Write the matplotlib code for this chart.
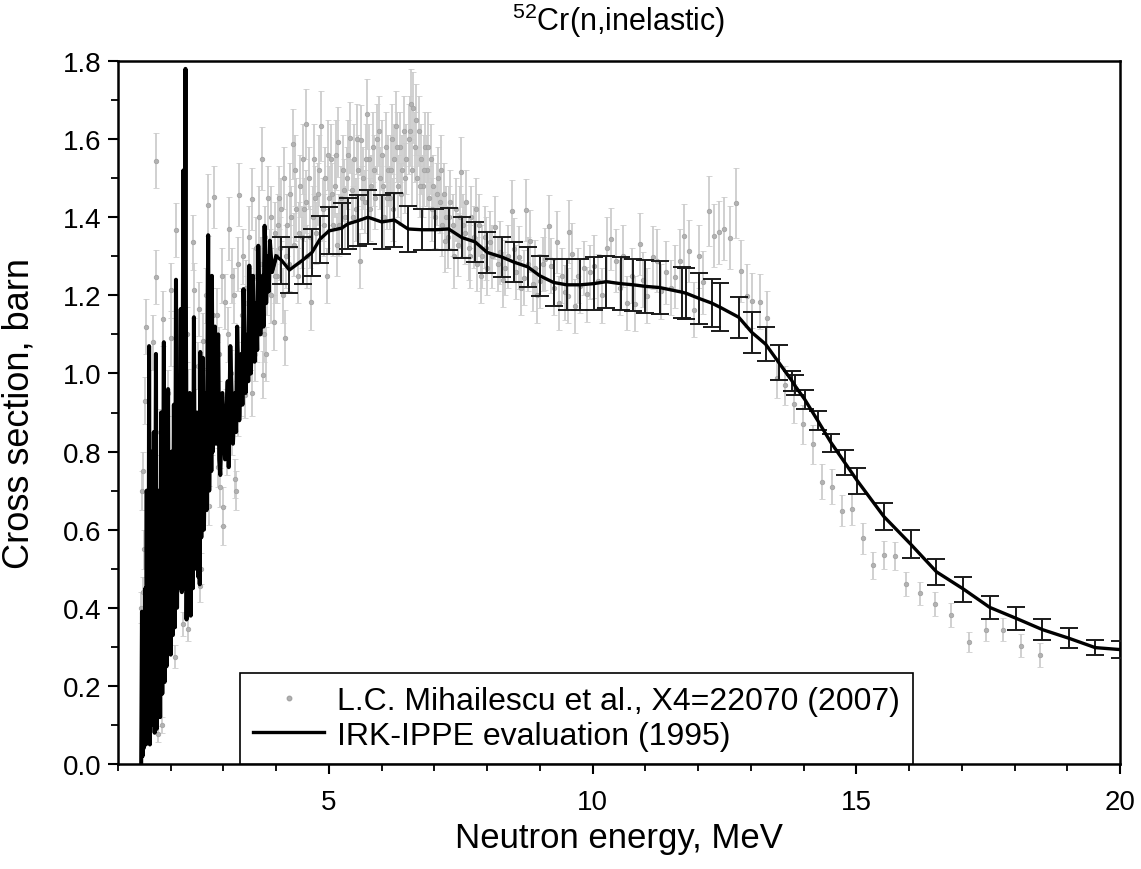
import matplotlib
matplotlib.use('Agg')
import matplotlib.pyplot as plt
from matplotlib.lines import Line2D
from matplotlib.ticker import MultipleLocator

plt.rcParams['font.family'] = ['Liberation Sans', 'DejaVu Sans']
plt.rcParams['mathtext.fontset'] = 'custom'
plt.rcParams['mathtext.rm'] = 'Liberation Sans'

# Mihailescu et al. (2007), X4=22070: energy (MeV), cross section (b), uncertainty (b)
exp_e = [
    1.44, 1.46, 1.47, 1.48, 1.49, 1.50, 1.52, 1.54, 1.56, 1.60, 1.63, 1.67, 1.72, 1.72, 1.75,
    1.78, 1.80, 1.84, 1.86, 1.88, 1.92, 1.95, 2.00, 2.00, 2.03, 2.08, 2.10, 2.13, 2.17, 2.20,
    2.23, 2.26, 2.30, 2.32, 2.33, 2.36, 2.40, 2.43, 2.44, 2.48, 2.51, 2.54, 2.56, 2.58, 2.61,
    2.64, 2.67, 2.70, 2.73, 2.76, 2.80, 2.83, 2.86, 2.90, 2.92, 2.94, 2.97, 2.99, 3.00, 3.02,
    3.05, 3.08, 3.11, 3.14, 3.17, 3.20, 3.22, 3.23, 3.25, 3.28, 3.30, 3.33, 3.36, 3.38, 3.40,
    3.43, 3.46, 3.49, 3.52, 3.54, 3.57, 3.60, 3.62, 3.65, 3.68, 3.71, 3.73, 3.75, 3.76, 3.79,
    3.82, 3.85, 3.88, 3.91, 3.95, 3.98, 4.02, 4.05, 4.08, 4.12, 4.15, 4.17, 4.20, 4.24, 4.27,
    4.31, 4.34, 4.38, 4.41, 4.45, 4.48, 4.52, 4.56, 4.59, 4.62, 4.66, 4.69, 4.72, 4.76, 4.80,
    4.85, 4.88, 4.92, 4.96, 5.00, 5.04, 5.08, 5.12, 5.15, 5.18, 5.22, 5.26, 5.30, 5.34, 5.40,
    5.44, 5.48, 5.52, 5.56, 5.59, 5.61, 5.65, 5.68, 5.72, 5.76, 5.80, 5.84, 5.88, 5.92, 5.96,
    6.00, 6.04, 6.08, 6.12, 6.16, 6.20, 6.24, 6.27, 6.31, 6.35, 6.39, 6.43, 6.47, 6.51, 6.56,
    6.60, 6.63, 6.67, 6.70, 6.74, 6.78, 6.82, 6.86, 6.90, 6.94, 6.98, 7.02, 7.06, 7.10, 7.14,
    7.18, 7.22, 7.26, 7.30, 7.35, 7.40, 7.45, 7.51, 7.55, 7.60, 7.65, 7.70, 7.75, 7.80, 7.85,
    7.90, 7.95, 8.00, 8.06, 8.10, 8.15, 8.20, 8.25, 8.30, 8.34, 8.40, 8.47, 8.50, 8.55, 8.60,
    8.65, 8.69, 8.74, 8.78, 8.82, 8.87, 8.91, 8.95, 9.00, 9.05, 9.10, 9.17, 9.21, 9.26, 9.32,
    9.36, 9.41, 9.48, 9.53, 9.56, 9.60, 9.66, 9.72, 9.77, 9.83, 9.89, 9.95, 10.02, 10.11, 10.18,
    10.27, 10.35, 10.45, 10.52, 10.58, 10.66, 10.75, 10.81, 10.89, 10.96, 11.04, 11.14, 11.22, 11.30, 11.39,
    11.48, 11.57, 11.65, 11.74, 11.83, 11.93, 12.01, 12.10, 12.21, 12.31, 12.40, 12.50, 12.61, 12.71, 12.81,
    12.92, 13.02, 13.17, 13.31, 13.49, 13.64, 13.81, 13.99, 14.17, 14.35, 14.54, 14.73, 14.92, 15.12, 15.32,
    15.53, 15.73, 15.95, 16.20, 16.50, 16.80, 17.13, 17.45, 17.79, 18.13, 18.48,
    # second pass through the densely measured region
    2.46, 2.62, 2.69, 2.78, 2.88, 2.96, 3.07, 3.16, 3.27, 3.35, 3.45, 3.55, 3.63, 3.70, 3.80,
    3.90, 3.97, 4.04, 4.10, 4.19, 4.29, 4.36, 4.43, 4.50, 4.57, 4.64, 4.74, 4.82, 4.90, 4.98,
    5.06, 5.14, 5.20, 5.28, 5.36, 5.46, 5.54, 5.63, 5.70, 5.78, 5.86, 5.94, 6.02, 6.10, 6.18,
    6.22, 6.29, 6.37, 6.45, 6.53, 6.58, 6.65, 6.72, 6.80, 6.88, 6.96, 7.04, 7.12, 7.20, 7.28,
    7.38, 7.48, 7.58, 7.68, 7.78, 7.88, 7.98,
]
exp_xs = [
    0.40, 0.70, 0.75, 0.44, 0.10, 0.55, 0.93, 1.12, 0.30, 0.62, 0.20, 1.08, 1.545, 1.247, 0.077,
    0.50, 0.85, 0.10, 1.14, 0.65, 0.40, 0.95, 1.213, 1.09, 0.72, 0.275, 1.367, 0.85, 0.55, 1.00,
    0.358, 0.80, 1.10, 0.346, 0.951, 0.65, 0.88, 1.336, 1.213, 0.75, 1.02, 1.165, 0.456, 0.50, 1.084,
    0.85, 1.20, 1.431, 0.661, 1.00, 1.15, 1.452, 0.95, 0.76, 1.05, 0.709, 1.25, 0.659, 0.61, 1.184,
    0.90, 1.10, 1.371, 1.00, 0.85, 1.20, 0.73, 0.70, 1.05, 1.28, 1.458, 0.95, 1.15, 1.30, 0.945,
    1.22, 1.05, 1.35, 1.12, 1.447, 1.25, 1.05, 1.32, 1.18, 1.40, 1.28, 1.55, 0.997, 1.10, 1.35,
    1.22, 1.45, 1.30, 1.40, 1.131, 1.36, 1.25, 1.45, 1.32, 1.20, 1.50, 1.092, 1.38, 1.28, 1.46,
    1.587, 1.33, 1.42, 1.25, 1.48, 1.35, 1.42, 1.638, 1.30, 1.50, 1.182, 1.40, 1.55, 1.36, 1.46,
    1.634, 1.42, 1.50, 1.25, 1.45, 1.55, 1.38, 1.48, 1.33, 1.592, 1.45, 1.52, 1.40, 1.50, 1.604,
    1.47, 1.55, 1.42, 1.52, 1.289, 1.598, 1.50, 1.44, 1.664, 1.55, 1.48, 1.58, 1.45, 1.60, 1.50,
    1.56, 1.40, 1.58, 1.52, 1.45, 1.60, 1.55, 1.634, 1.48, 1.58, 1.52, 1.62, 1.55, 1.60, 1.69,
    1.681, 1.58, 1.50, 1.62, 1.55, 1.48, 1.58, 1.52, 1.45, 1.55, 1.48, 1.40, 1.50, 1.44, 1.38,
    1.46, 1.40, 1.35, 1.44, 1.38, 1.42, 1.33, 1.516, 1.38, 1.44, 1.32, 1.40, 1.35, 1.28, 1.38,
    1.30, 1.35, 1.27, 1.336, 1.30, 1.374, 1.28, 1.31, 1.24, 1.271, 1.30, 1.416, 1.318, 1.26, 1.297,
    1.22, 1.245, 1.418, 1.28, 1.339, 1.23, 1.271, 1.20, 1.237, 1.28, 1.293, 1.378, 1.276, 1.22, 1.336,
    1.18, 1.25, 1.208, 1.199, 1.363, 1.306, 1.173, 1.25, 1.224, 1.27, 1.203, 1.26, 1.274, 1.237, 1.20,
    1.32, 1.344, 1.289, 1.22, 1.301, 1.18, 1.25, 1.179, 1.331, 1.24, 1.199, 1.297, 1.289, 1.21, 1.259,
    1.22, 1.248, 1.289, 1.353, 1.314, 1.163, 1.30, 1.233, 1.416, 1.353, 1.361, 1.371, 1.348, 1.437, 1.262,
    1.199, 1.186, 1.184, 1.141, 0.988, 0.970, 0.922, 0.870, 0.819, 0.723, 0.710, 0.649, 0.653, 0.578, 0.509,
    0.535, 0.533, 0.461, 0.437, 0.410, 0.381, 0.312, 0.344, 0.344, 0.303, 0.279,
    0.90, 0.70, 0.95, 0.85, 1.15, 0.88, 0.80, 1.25, 0.90, 1.05, 1.18, 0.95, 1.10, 1.20, 1.05,
    1.20, 1.25, 1.38, 1.42, 1.30, 1.40, 1.52, 1.36, 1.55, 1.44, 1.35, 1.45, 1.52, 1.38, 1.56,
    1.46, 1.56, 1.38, 1.47, 1.56, 1.40, 1.60, 1.45, 1.55, 1.42, 1.52, 1.62, 1.48, 1.45, 1.52,
    1.42, 1.58, 1.46, 1.50, 1.62, 1.52, 1.65, 1.48, 1.52, 1.58, 1.42, 1.46, 1.52, 1.34, 1.40,
    1.30, 1.40, 1.36, 1.30, 1.42, 1.25, 1.32,
]
exp_err = [
    0.04, 0.05, 0.05, 0.04, 0.02, 0.05, 0.06, 0.07, 0.03, 0.05, 0.03, 0.07, 0.07, 0.07, 0.02,
    0.04, 0.06, 0.02, 0.07, 0.05, 0.04, 0.06, 0.07, 0.07, 0.05, 0.03, 0.07, 0.06, 0.05, 0.06,
    0.03, 0.06, 0.07, 0.03, 0.06, 0.05, 0.06, 0.07, 0.07, 0.05, 0.06, 0.07, 0.04, 0.04, 0.07,
    0.06, 0.07, 0.08, 0.05, 0.06, 0.07, 0.08, 0.06, 0.05, 0.07, 0.05, 0.07, 0.05, 0.05, 0.07,
    0.06, 0.07, 0.08, 0.06, 0.06, 0.07, 0.05, 0.05, 0.07, 0.07, 0.08, 0.06, 0.07, 0.07, 0.06,
    0.07, 0.07, 0.08, 0.07, 0.08, 0.07, 0.07, 0.08, 0.07, 0.08, 0.07, 0.08, 0.06, 0.07, 0.08,
    0.07, 0.08, 0.07, 0.08, 0.07, 0.08, 0.07, 0.08, 0.08, 0.07, 0.08, 0.07, 0.08, 0.07, 0.08,
    0.09, 0.08, 0.08, 0.07, 0.08, 0.08, 0.08, 0.09, 0.08, 0.08, 0.07, 0.08, 0.09, 0.08, 0.08,
    0.09, 0.08, 0.08, 0.07, 0.08, 0.09, 0.08, 0.08, 0.08, 0.09, 0.08, 0.09, 0.08, 0.08, 0.09,
    0.08, 0.09, 0.08, 0.09, 0.07, 0.09, 0.08, 0.08, 0.09, 0.09, 0.08, 0.09, 0.08, 0.09, 0.08,
    0.09, 0.08, 0.09, 0.09, 0.08, 0.09, 0.09, 0.09, 0.08, 0.09, 0.09, 0.09, 0.09, 0.09, 0.09,
    0.09, 0.09, 0.08, 0.09, 0.09, 0.08, 0.09, 0.09, 0.08, 0.09, 0.08, 0.08, 0.08, 0.08, 0.08,
    0.08, 0.08, 0.08, 0.08, 0.08, 0.08, 0.08, 0.09, 0.08, 0.08, 0.08, 0.08, 0.08, 0.07, 0.08,
    0.08, 0.08, 0.07, 0.08, 0.08, 0.08, 0.07, 0.08, 0.07, 0.07, 0.08, 0.08, 0.08, 0.07, 0.08,
    0.07, 0.07, 0.08, 0.07, 0.08, 0.07, 0.07, 0.07, 0.07, 0.07, 0.08, 0.08, 0.07, 0.07, 0.08,
    0.07, 0.07, 0.07, 0.07, 0.08, 0.08, 0.07, 0.07, 0.07, 0.07, 0.07, 0.07, 0.08, 0.07, 0.07,
    0.08, 0.08, 0.08, 0.07, 0.08, 0.07, 0.07, 0.07, 0.08, 0.07, 0.07, 0.08, 0.08, 0.07, 0.08,
    0.07, 0.08, 0.08, 0.08, 0.08, 0.07, 0.08, 0.08, 0.09, 0.08, 0.08, 0.08, 0.08, 0.09, 0.08,
    0.08, 0.07, 0.07, 0.07, 0.05, 0.05, 0.05, 0.05, 0.05, 0.045, 0.045, 0.04, 0.04, 0.04, 0.035,
    0.035, 0.035, 0.03, 0.03, 0.03, 0.03, 0.025, 0.03, 0.03, 0.03, 0.03,
    0.06, 0.05, 0.06, 0.06, 0.07, 0.06, 0.06, 0.07, 0.06, 0.07, 0.07, 0.06, 0.07, 0.07, 0.07,
    0.07, 0.07, 0.08, 0.08, 0.08, 0.08, 0.09, 0.08, 0.09, 0.08, 0.08, 0.08, 0.09, 0.08, 0.09,
    0.08, 0.09, 0.08, 0.08, 0.09, 0.08, 0.09, 0.08, 0.09, 0.08, 0.09, 0.09, 0.08, 0.08, 0.09,
    0.08, 0.09, 0.08, 0.09, 0.09, 0.09, 0.09, 0.08, 0.09, 0.09, 0.08, 0.08, 0.09, 0.08, 0.08,
    0.08, 0.08, 0.08, 0.08, 0.08, 0.07, 0.08,
]

# IRK-IPPE evaluation, resolved-resonance region (no uncertainty bars)
res_e = [
    1.44, 1.455, 1.465, 1.475, 1.485, 1.495, 1.505, 1.52, 1.53, 1.545, 1.555, 1.57, 1.58, 1.59, 1.605,
    1.62, 1.635, 1.65, 1.665, 1.68, 1.695, 1.72, 1.735, 1.75, 1.765, 1.78, 1.80, 1.82, 1.84, 1.87,
    1.885, 1.90, 1.92, 1.95, 1.965, 1.98, 2.00, 2.02, 2.04, 2.06, 2.08, 2.10, 2.12, 2.14, 2.16,
    2.19, 2.21, 2.24, 2.255, 2.28, 2.30, 2.32, 2.34, 2.36, 2.38, 2.41, 2.42, 2.44, 2.46, 2.50,
    2.52, 2.54, 2.55, 2.56, 2.58, 2.61, 2.63, 2.66, 2.68, 2.71, 2.73, 2.76, 2.77, 2.78, 2.80,
    2.84, 2.86, 2.90, 2.92, 2.94, 2.98, 3.03, 3.08, 3.10, 3.13, 3.18, 3.22, 3.24, 3.26, 3.30,
    3.34, 3.36, 3.38, 3.42, 3.46, 3.47, 3.49, 3.52, 3.56, 3.59, 3.62, 3.64, 3.66, 3.70, 3.74,
    3.76, 3.78, 3.81, 3.84, 3.86, 3.88, 3.92, 4.00,
]
res_xs = [
    0.00, 0.39, 0.02, 0.25, 0.04, 0.30, 0.08, 0.45, 0.05, 0.70, 0.10, 0.60, 0.12, 1.07, 0.05,
    0.80, 0.10, 0.55, 0.15, 0.85, 0.08, 1.05, 0.09, 0.62, 0.12, 0.70, 0.12, 0.90, 0.18, 1.08,
    0.21, 0.75, 0.25, 0.96, 0.30, 0.65, 0.28, 0.80, 0.33, 0.92, 0.35, 1.24, 0.40, 0.90, 0.45,
    1.165, 0.44, 1.52, 0.45, 1.78, 0.37, 0.80, 0.42, 0.95, 0.38, 0.85, 0.45, 1.144, 0.50, 0.90,
    0.48, 0.80, 0.46, 1.055, 0.58, 1.04, 0.60, 0.95, 0.65, 1.354, 0.70, 1.10, 0.75, 1.25, 0.80,
    1.12, 0.82, 1.10, 0.78, 0.74, 0.95, 0.78, 0.98, 0.76, 1.07, 0.82, 0.95, 0.85, 1.12, 0.88,
    1.05, 0.92, 1.216, 0.95, 1.10, 0.98, 1.276, 1.00, 1.25, 1.03, 1.18, 1.06, 1.327, 1.10, 1.25,
    1.12, 1.378, 1.18, 1.30, 1.21, 1.34, 1.26, 1.30,
]

# IRK-IPPE evaluation, smooth region with uncertainties
grid_e = [
    4.10, 4.25, 4.50, 4.68, 4.83, 5.00, 5.24, 5.36, 5.55, 5.74, 6.00, 6.24, 6.50, 6.76, 7.02,
    7.27, 7.52, 7.77, 8.00, 8.28, 8.51, 8.77, 9.00, 9.26, 9.51, 9.77, 10.02, 10.26, 10.53, 10.77,
    11.00, 11.27, 11.70, 11.78, 12.02, 12.26, 12.41, 12.77, 13.02, 13.28, 13.53, 13.78, 13.83, 14.02, 14.27,
    14.52, 14.78, 15.02, 15.52, 16.03, 16.52, 17.03, 17.53, 18.03, 18.53, 19.03, 19.53, 20.00,
]
grid_xs = [
    1.29, 1.265, 1.29, 1.31, 1.344, 1.365, 1.372, 1.383, 1.391, 1.40, 1.388, 1.393, 1.37, 1.368, 1.368,
    1.37, 1.348, 1.337, 1.31, 1.298, 1.285, 1.273, 1.25, 1.233, 1.227, 1.227, 1.23, 1.235, 1.23, 1.227,
    1.223, 1.22, 1.208, 1.205, 1.192, 1.18, 1.17, 1.144, 1.105, 1.075, 1.028, 0.981, 0.970, 0.934, 0.879,
    0.823, 0.772, 0.725, 0.634, 0.563, 0.492, 0.448, 0.401, 0.373, 0.344, 0.322, 0.298, 0.293,
]
grid_err = [
    0.06, 0.06, 0.06, 0.06, 0.06, 0.06, 0.065, 0.065, 0.065, 0.069, 0.069, 0.069, 0.06, 0.053, 0.053,
    0.053, 0.053, 0.052, 0.052, 0.052, 0.052, 0.052, 0.051, 0.06, 0.065, 0.065, 0.067, 0.067, 0.067, 0.067,
    0.067, 0.067, 0.065, 0.065, 0.065, 0.062, 0.062, 0.052, 0.053, 0.043, 0.044, 0.025, 0.025, 0.024, 0.024,
    0.023, 0.032, 0.033, 0.035, 0.035, 0.033, 0.032, 0.029, 0.029, 0.026, 0.026, 0.02, 0.021,
]

fig = plt.figure(figsize=(11.41, 8.70), dpi=100)
ax = fig.add_axes([0.1034, 0.1207, 0.8782, 0.808])

ax.errorbar(exp_e, exp_xs, yerr=exp_err, fmt='o', ms=3.2, mfc='#b2b2b2', mec='#a4a4a4', mew=0.6,
            ecolor='#cdcdcd', elinewidth=1.3, capsize=2.5, capthick=1.0, zorder=2)
ax.errorbar(grid_e, grid_xs, yerr=grid_err, fmt='none', ecolor='#1a1a1a', elinewidth=1.4,
            capsize=6.5, capthick=1.4, zorder=3)
ax.plot(res_e, res_xs, color='black', lw=2.9, zorder=4)
ax.plot(res_e[-2:] + grid_e, res_xs[-2:] + grid_xs, color='black', lw=2.4, zorder=4)

ax.set_xlim(1, 20)
ax.set_ylim(0, 1.8)
ax.xaxis.set_major_locator(MultipleLocator(5))
ax.xaxis.set_minor_locator(MultipleLocator(1))
ax.yaxis.set_major_locator(MultipleLocator(0.2))
ax.yaxis.set_minor_locator(MultipleLocator(0.1))
ax.yaxis.set_major_formatter(plt.FuncFormatter(lambda v, p: f'{v:.1f}'))
ax.tick_params(which='major', direction='out', length=7, width=1.5, labelsize=20)
ax.tick_params(which='minor', direction='out', length=5, width=1.3)
ax.tick_params(axis='x', pad=11)
ax.tick_params(axis='y', pad=5)
for sp in ax.spines.values():
    sp.set_linewidth(1.8)

ax.set_xlabel('Neutron energy, MeV', fontsize=25, labelpad=4)
ax.set_ylabel('Cross section, barn', fontsize=26)
ax.yaxis.set_label_coords(-0.081, 0.5)
ax.set_title(r'$^{52}$Cr(n,inelastic)', fontsize=22, pad=22)

handles = [
    Line2D([], [], ls='none', marker='o', ms=3.2, mfc='#b2b2b2', mec='#a4a4a4'),
    Line2D([], [], color='black', lw=2.4),
]
labels = ['L.C. Mihailescu et al., X4=22070 (2007)', 'IRK-IPPE evaluation (1995)']
leg = ax.legend(handles, labels, loc='lower left', bbox_to_anchor=(0.1218, 0.0), borderaxespad=0,
                fontsize=23, frameon=True, fancybox=False, edgecolor='black', framealpha=1,
                handlelength=2.2, handletextpad=0.42, labelspacing=0.14, borderpad=0.42)
leg.get_frame().set_linewidth(1.2)
leg.set_zorder(5)

fig.savefig('out.png', dpi=100)
